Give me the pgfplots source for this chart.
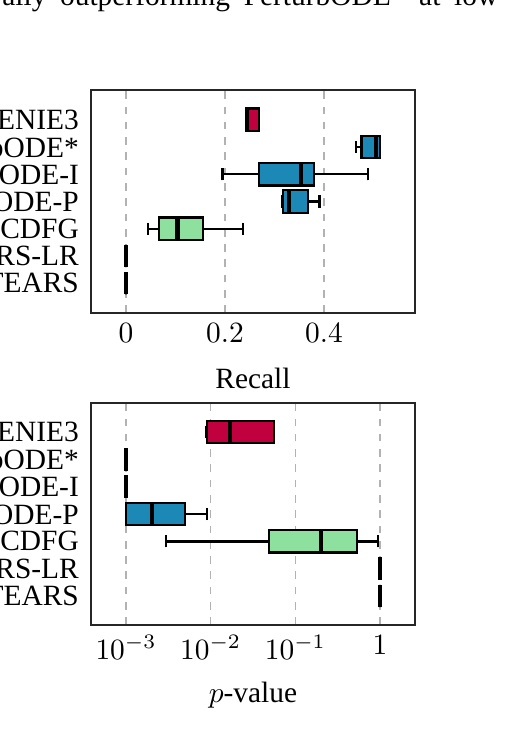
\documentclass[border=0pt]{standalone}
\usepackage{fontspec}
\setmainfont{Liberation Serif}
\usepackage{pgfplots}
\pgfplotsset{compat=1.18}
\usepgfplotslibrary{statistics}
\definecolor{crim}{HTML}{C1003F}
\definecolor{pblue}{HTML}{1B88B6}
\definecolor{pgreen}{HTML}{8EE09E}
\pgfplotsset{
  myax/.style={
    scale only axis, width=110.16pt,
    xmajorgrids, ymajorgrids=false,
    major grid style={dash pattern=on 2.6pt off 2.6pt, black!30, line width=0.5pt},
    axis line style={black!85, line width=0.6pt},
    major tick length=0pt, minor tick length=0pt,
    ytick={0,...,6},
    yticklabels={NOTEARS,NOTEARS-LR,DCDFG,PerturbODE-P,PerturbODE-I,PerturbODE*,GENIE3},
    yticklabel style={font=\fontsize{10}{11}\selectfont, xshift=-0.6pt},
    boxplot/draw direction=x,
    boxplot/box extend=0.82,
    boxplot/whisker extend=0.45,
    boxplot/every box/.style={draw=black, line width=0.75pt},
    boxplot/every whisker/.style={black, line width=0.8pt},
    boxplot/every median/.style={black, line width=1.5pt},
    clip=false,
  },
  bx/.style={draw=black, line width=0.75pt},
}
\begin{document}
\begin{tikzpicture}
\path[use as bounding box, clip] (0,0) rectangle (172.04pt,249.22pt);
\node[anchor=base west, inner sep=0pt] at (0.6pt,247.2pt) {\makebox[168.6pt][s]{ally outperforming PerturbODE* at low}};
% Recall
\begin{axis}[myax, at={(30.94pt,142.8pt)}, anchor=south west, height=75.82pt,
  xmin=-0.0707, xmax=0.584, ymin=-1.09, ymax=7.09,
  xtick={0,0.2,0.4}, xticklabels={$0$,$0.2$,$0.4$},
  xlabel={Recall}, xlabel style={yshift=-2pt}]
\addplot[bx, fill=crim, boxplot prepared={lower whisker=0.243, lower quartile=0.243, median=0.245, upper quartile=0.269, upper whisker=0.269, draw position=6}] coordinates {};
\addplot[bx, fill=pblue, boxplot prepared={lower whisker=0.465, lower quartile=0.476, median=0.505, upper quartile=0.513, upper whisker=0.513, draw position=5}] coordinates {};
\addplot[bx, fill=pblue, boxplot prepared={lower whisker=0.195, lower quartile=0.269, median=0.354, upper quartile=0.380, upper whisker=0.489, draw position=4}] coordinates {};
\addplot[bx, fill=pblue, boxplot prepared={lower whisker=0.3165, lower quartile=0.3165, median=0.329, upper quartile=0.367, upper whisker=0.391, draw position=3}] coordinates {};
\addplot[bx, fill=pgreen, boxplot prepared={lower whisker=0.044, lower quartile=0.066, median=0.104, upper quartile=0.156, upper whisker=0.236, draw position=2}] coordinates {};
\addplot[bx, fill=black, boxplot prepared={lower whisker=0, lower quartile=0, median=0, upper quartile=0, upper whisker=0, draw position=1}] coordinates {};
\addplot[bx, fill=black, boxplot prepared={lower whisker=0, lower quartile=0, median=0, upper quartile=0, upper whisker=0, draw position=0}] coordinates {};
\end{axis}
% p-value
\begin{axis}[myax, at={(30.94pt,36.72pt)}, anchor=south west, height=75.48pt,
  xmode=log, xminorticks=false,
  xmin=0.000386, xmax=2.59, ymin=-1.06, ymax=7.06,
  xtick={0.001,0.01,0.1,1}, xticklabels={$10^{-3}$,$10^{-2}$,$10^{-1}$,$1$},
  xlabel={$p$-value}, xlabel style={yshift=-1pt}]
\addplot[bx, fill=crim, boxplot prepared={lower whisker=0.00897, lower quartile=0.00897, median=0.0169, upper quartile=0.056, upper whisker=0.056, draw position=6}] coordinates {};
\addplot[bx, fill=black, boxplot prepared={lower whisker=0.001, lower quartile=0.001, median=0.001, upper quartile=0.001, upper whisker=0.001, draw position=5}] coordinates {};
\addplot[bx, fill=black, boxplot prepared={lower whisker=0.001, lower quartile=0.001, median=0.001, upper quartile=0.001, upper whisker=0.001, draw position=4}] coordinates {};
\addplot[bx, fill=pblue, boxplot prepared={lower whisker=0.001, lower quartile=0.001, median=0.00203, upper quartile=0.00501, upper whisker=0.00912, draw position=3}] coordinates {};
\addplot[bx, fill=pgreen, boxplot prepared={lower whisker=0.00296, lower quartile=0.0493, median=0.1995, upper quartile=0.540, upper whisker=0.947, draw position=2}] coordinates {};
\addplot[bx, fill=black, boxplot prepared={lower whisker=1, lower quartile=1, median=1, upper quartile=1, upper whisker=1, draw position=1}] coordinates {};
\addplot[bx, fill=black, boxplot prepared={lower whisker=1, lower quartile=1, median=1, upper quartile=1, upper whisker=1, draw position=0}] coordinates {};
\end{axis}
\end{tikzpicture}
\end{document}
